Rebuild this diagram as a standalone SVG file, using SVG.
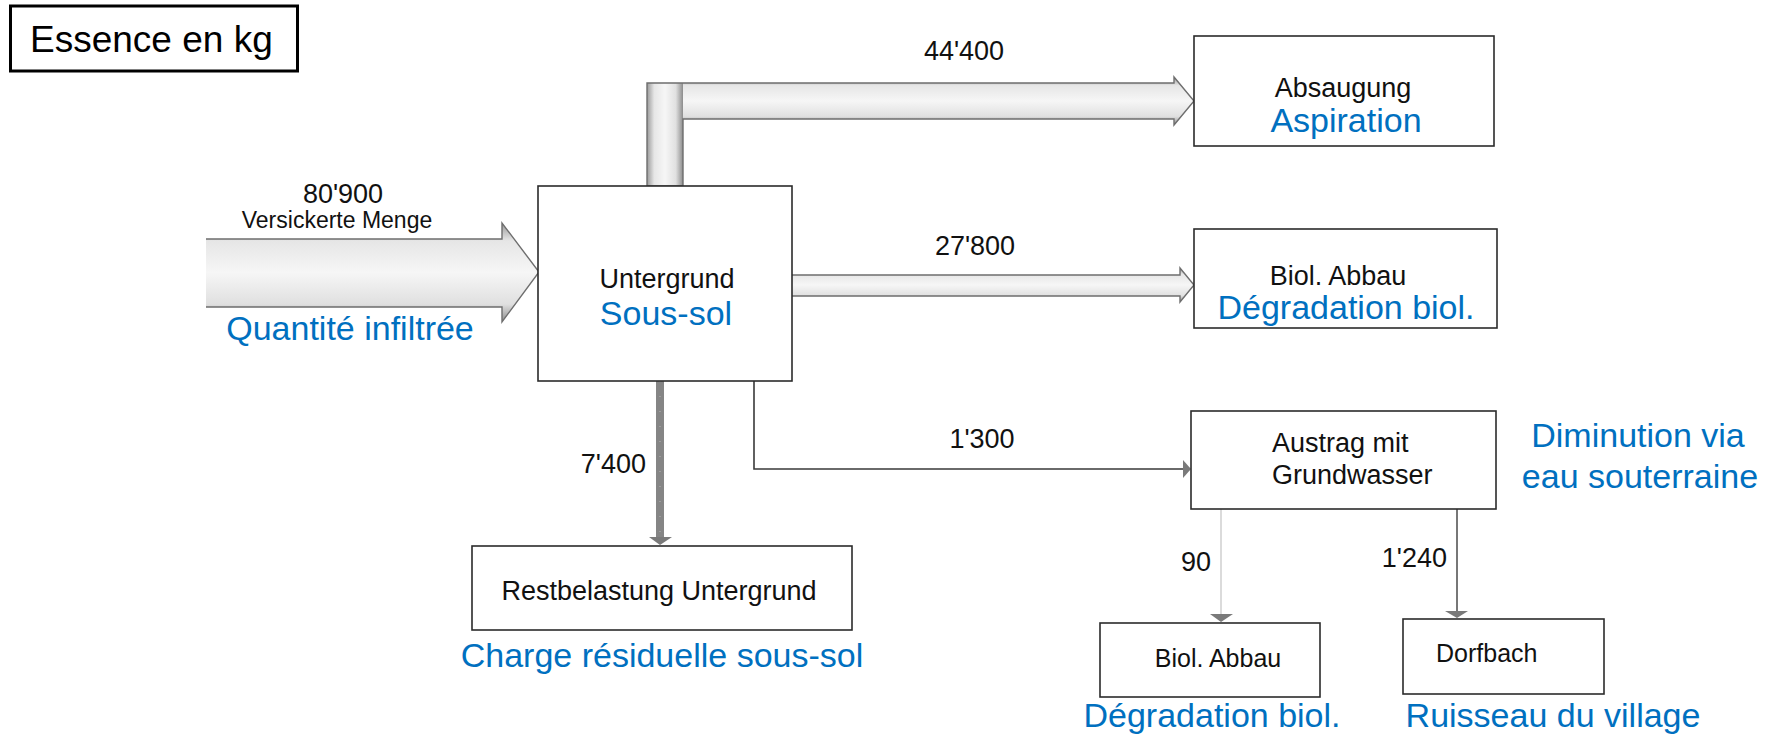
<svg xmlns="http://www.w3.org/2000/svg" width="1773" height="735" viewBox="0 0 1773 735">
<style>
  text { font-family: "Liberation Sans", Arial, sans-serif; }
  .lbl { fill: #111111; font-size: 27px; }
  .sm { fill: #111111; font-size: 25px; }
  .blue { fill: #0070C0; font-size: 34px; }
  .box { fill: #ffffff; stroke: #2b2b2b; stroke-width: 1.6; }
  .fatline { fill: none; stroke: #6e6e6e; stroke-width: 1.4; stroke-linejoin: miter; }
  .head { fill: #7a7a7a; }
  .mid { text-anchor: middle; }
  .end { text-anchor: end; }
</style>
<defs>
  <linearGradient id="gv" x1="0" y1="0" x2="0" y2="1">
    <stop offset="0" stop-color="#9a9a9a"/>
    <stop offset="0.18" stop-color="#e6e6e6"/>
    <stop offset="0.5" stop-color="#f6f6f6"/>
    <stop offset="0.82" stop-color="#e0e0e0"/>
    <stop offset="1" stop-color="#8c8c8c"/>
  </linearGradient>
  <linearGradient id="gh" x1="0" y1="0" x2="1" y2="0">
    <stop offset="0" stop-color="#9a9a9a"/>
    <stop offset="0.2" stop-color="#e6e6e6"/>
    <stop offset="0.5" stop-color="#f6f6f6"/>
    <stop offset="0.8" stop-color="#e0e0e0"/>
    <stop offset="1" stop-color="#8c8c8c"/>
  </linearGradient>
</defs>
<rect x="0" y="0" width="1773" height="735" fill="#ffffff"/>

<g id="connectors">
  <!-- input 80'900 -->
  <polygon points="206,239 502,239 502,223 539,272 502,322 502,307 206,307" fill="url(#gv)"/>
  <polyline class="fatline" points="206,239 502,239 502,223 539,272 502,322 502,307 206,307"/>
  <!-- 44'400 L-shaped -->
  <rect x="647" y="83" width="36" height="103" fill="url(#gh)"/>
  <polygon points="683,83 1174,83 1174,77 1194,101 1174,125 1174,119 683,119" fill="url(#gv)"/>
  <polygon class="fatline" points="647,186 647,83 1174,83 1174,77 1194,101 1174,125 1174,119 683,119 683,186"/>
  <!-- 27'800 -->
  <polygon points="792,275 1180,275 1180,268 1194,285 1180,302 1180,296 792,296" fill="url(#gv)"/>
  <polyline class="fatline" points="792,275 1180,275 1180,268 1194,285 1180,302 1180,296 792,296"/>
  <!-- 7'400 -->
  <line x1="660" y1="381" x2="660" y2="538" stroke="#858585" stroke-width="8"/>
  <line x1="660" y1="381" x2="660" y2="538" stroke="#b5b5b5" stroke-width="1" stroke-dasharray="1 14"/>
  <polygon class="head" points="649,537 672,537 660,545"/>
  <!-- 1'300 -->
  <polyline points="754,381 754,469 1184,469" fill="none" stroke="#3a3a3a" stroke-width="1.6"/>
  <polygon class="head" points="1183,460 1191,469 1183,478"/>
  <!-- 90 -->
  <line x1="1221" y1="509" x2="1221" y2="614" stroke="#c8c8c8" stroke-width="1.3"/>
  <polygon class="head" points="1210,614 1233,614 1221,622"/>
  <!-- 1'240 -->
  <line x1="1457" y1="509" x2="1457" y2="611" stroke="#4a4a4a" stroke-width="1.5"/>
  <polygon class="head" points="1445,611 1468,611 1457,618"/>
</g>

<g id="flow-labels">
  <text class="lbl mid" x="343" y="203">80'900</text>
  <text class="mid" x="337" y="228" font-size="23" fill="#111111">Versickerte Menge</text>
  <text class="blue mid" x="350" y="340">Quantité infiltrée</text>
  <text class="lbl mid" x="964" y="60">44'400</text>
  <text class="lbl mid" x="975" y="255">27'800</text>
  <text class="lbl end" x="646" y="473">7'400</text>
  <text class="lbl mid" x="982" y="448">1'300</text>
  <text class="lbl end" x="1211" y="571">90</text>
  <text class="lbl end" x="1447" y="567">1'240</text>
</g>

<g id="legend">
  <rect x="10.5" y="6" width="287" height="65" fill="#ffffff" stroke="#000000" stroke-width="3"/>
  <text x="30" y="52" font-size="37" fill="#000000">Essence en kg</text>
</g>

<g id="untergrund">
  <rect class="box" x="538" y="186" width="254" height="195"/>
  <text class="lbl mid" x="667" y="288">Untergrund</text>
  <text class="blue mid" x="666" y="325">Sous-sol</text>
</g>

<g id="absaugung">
  <rect class="box" x="1194" y="36" width="300" height="110"/>
  <text class="lbl mid" x="1343" y="97">Absaugung</text>
  <text class="blue mid" x="1346" y="132">Aspiration</text>
</g>

<g id="biol-abbau-1">
  <rect class="box" x="1194" y="229" width="303" height="99"/>
  <text class="lbl mid" x="1338" y="285">Biol. Abbau</text>
  <text class="blue mid" x="1346" y="319">Dégradation biol.</text>
</g>

<g id="austrag">
  <rect class="box" x="1191" y="411" width="305" height="98"/>
  <text class="lbl" x="1272" y="452">Austrag mit</text>
  <text class="lbl" x="1272" y="484">Grundwasser</text>
  <text class="blue mid" x="1638" y="447">Diminution via</text>
  <text class="blue mid" x="1640" y="488">eau souterraine</text>
</g>

<g id="restbelastung">
  <rect class="box" x="472" y="546" width="380" height="84"/>
  <text class="lbl mid" x="659" y="600">Restbelastung Untergrund</text>
  <text class="blue mid" x="662" y="667">Charge résiduelle sous-sol</text>
</g>

<g id="biol-abbau-2">
  <rect class="box" x="1100" y="623" width="220" height="74"/>
  <text class="sm mid" x="1218" y="667">Biol. Abbau</text>
  <text class="blue mid" x="1212" y="727">Dégradation biol.</text>
</g>

<g id="dorfbach">
  <rect class="box" x="1403" y="619" width="201" height="75"/>
  <text class="sm" x="1436" y="662">Dorfbach</text>
  <text class="blue mid" x="1553" y="727">Ruisseau du village</text>
</g>
</svg>
